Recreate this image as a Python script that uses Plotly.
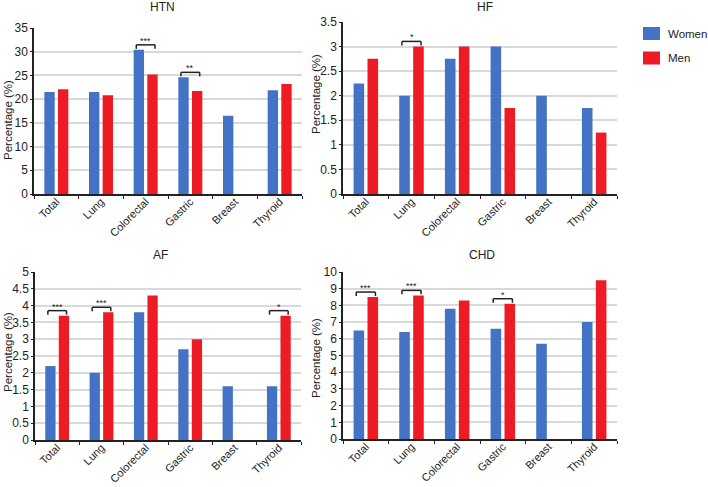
import plotly.graph_objects as go

categories = ["Total", "Lung", "Colorectal", "Gastric", "Breast", "Thyroid"]

htn_women = [21.5, 21.5, 30.4, 24.6, 16.5, 21.9]
htn_men = [22.1, 20.8, 25.2, 21.7, None, 23.2]
hf_women = [2.25, 2.0, 2.75, 3.0, 2.0, 1.75]
hf_men = [2.75, 3.0, 3.0, 1.75, None, 1.25]
af_women = [2.2, 2.0, 3.8, 2.7, 1.6, 1.6]
af_men = [3.7, 3.8, 4.3, 3.0, None, 3.7]
chd_women = [6.5, 6.4, 7.8, 6.6, 5.7, 7.0]
chd_men = [8.5, 8.6, 8.3, 8.1, None, 9.5]

series_names = ["Women", "Men"]
panel_titles = ["HTN", "HF", "AF", "CHD"]
y_max = [35, 3.5, 5, 10]
y_dtick = [5, 0.5, 0.5, 1]

# significance marks: (panel index, category, stars)
sig_panel = [0, 0, 1, 2, 2, 2, 3, 3, 3]
sig_cat = ["Colorectal", "Gastric", "Lung", "Total", "Lung", "Thyroid", "Total", "Lung", "Gastric"]
sig_text = ["***", "**", "*", "***", "***", "*", "***", "***", "*"]

women_series = [htn_women, hf_women, af_women, chd_women]
men_series = [htn_men, hf_men, af_men, chd_men]

W, H = 708, 487
# pixel boxes: (left, right, top, bottom)
boxes = [(34, 302, 28, 194), (343, 617, 22, 194), (35, 301, 272, 440), (343, 617, 272, 439)]
title_pos = [(162, 7), (485, 7), (160, 255), (482, 255)]
ytitle_pos = [(8, 120), (316, 94), (8, 352), (316, 358)]

WOMEN_C = "#4472C4"
MEN_C = "#ED1C24"
FONT = "Arial, Liberation Sans, sans-serif"
TXT = "#222"

fig = go.Figure()
layout = dict(
    width=W, height=H, margin=dict(l=0, r=0, t=0, b=0, autoexpand=False),
    plot_bgcolor="white", paper_bgcolor="white",
    barmode="group", bargap=0.39, bargroupgap=0.24,
    font=dict(family=FONT, size=11, color=TXT),
    showlegend=False,
)
annotations = []
shapes = []

for i in range(4):
    sfx = "" if i == 0 else str(i + 1)
    l, r, t, b = boxes[i]
    fig.add_trace(go.Bar(x=categories, y=women_series[i], name=series_names[0], marker_color=WOMEN_C,
                         marker_line_width=0, xaxis="x" + sfx, yaxis="y" + sfx))
    fig.add_trace(go.Bar(x=categories, y=men_series[i], name=series_names[1], marker_color=MEN_C,
                         marker_line_width=0, xaxis="x" + sfx, yaxis="y" + sfx))
    layout["xaxis" + sfx] = dict(
        domain=[l / W, r / W], anchor="y" + sfx, type="category", automargin=False,
        showline=True, linecolor=TXT, linewidth=2, ticks="outside",
        tickson="boundaries", ticklen=3, tickcolor=TXT, tickwidth=1,
        tickangle=-45, tickfont=dict(size=11, color=TXT), showgrid=False,
        ticklabelstandoff=-5,
    )
    layout["yaxis" + sfx] = dict(
        domain=[1 - b / H, 1 - t / H], anchor="x" + sfx, automargin=False,
        range=[0, y_max[i]], dtick=y_dtick[i], showline=True, linecolor=TXT,
        linewidth=1.5, showgrid=True, gridcolor="#d9d9d9", gridwidth=1.5,
        zeroline=False, ticks="outside", ticklen=2, tickcolor=TXT,
        tickfont=dict(size=12, color=TXT), ticklabelstandoff=0,
    )
    tx, ty = title_pos[i]
    annotations.append(dict(text=panel_titles[i], x=tx / W, y=1 - ty / H, xref="paper", yref="paper",
                            showarrow=False, font=dict(size=12, color=TXT), xanchor="center",
                            yanchor="middle"))
    ax_, ay_ = ytitle_pos[i]
    annotations.append(dict(text="Percentage (%)", x=ax_ / W, y=1 - ay_ / H, xref="paper", yref="paper",
                            showarrow=False, textangle=-90, font=dict(size=11.5, color=TXT),
                            xanchor="center", yanchor="middle"))

for k in range(len(sig_cat)):
    i = sig_panel[k]
    sfx = "" if i == 0 else str(i + 1)
    idx = categories.index(sig_cat[k])
    vals = [v for v in (women_series[i][idx], men_series[i][idx]) if v is not None]
    yb = max(vals) + 0.03 * y_max[i]
    xr, yr = "x" + sfx, "y" + sfx
    shapes.append(dict(type="line", xref=xr, yref=yr, x0=sig_cat[k], x1=sig_cat[k],
                       x0shift=-0.21, x1shift=0.21, y0=yb, y1=yb,
                       line=dict(color=TXT, width=1.5)))
    for sh in (-0.21, 0.21):
        shapes.append(dict(type="line", xref=xr, yref=yr, x0=sig_cat[k], x1=sig_cat[k],
                           x0shift=sh, x1shift=sh, ysizemode="pixel", yanchor=yb, y0=0, y1=-4,
                           line=dict(color=TXT, width=1.5)))
    annotations.append(dict(text=sig_text[k], x=sig_cat[k], y=yb, xref=xr, yref=yr,
                            showarrow=False, yanchor="bottom", yshift=-3,
                            font=dict(size=9, color=TXT)))

# legend (manual, right side)
leg_rows = [(series_names[0], WOMEN_C, 33.5), (series_names[1], MEN_C, 58)]
for name, col, cy in leg_rows:
    shapes.append(dict(type="rect", xref="paper", yref="paper", x0=643 / W, x1=660 / W,
                       y0=1 - (cy + 6.5) / H, y1=1 - (cy - 6.5) / H,
                       fillcolor=col, line=dict(width=0)))
    annotations.append(dict(text=name, x=666 / W, y=1 - cy / H, xref="paper", yref="paper",
                            showarrow=False, xanchor="left", yanchor="middle",
                            font=dict(size=11.5, color=TXT)))

layout["annotations"] = annotations
layout["shapes"] = shapes
fig.update_layout(**layout)
fig.write_html("out.html", config={"displayModeBar": False},
               post_script="document.body.style.margin='0px';document.body.style.overflow='hidden';")
